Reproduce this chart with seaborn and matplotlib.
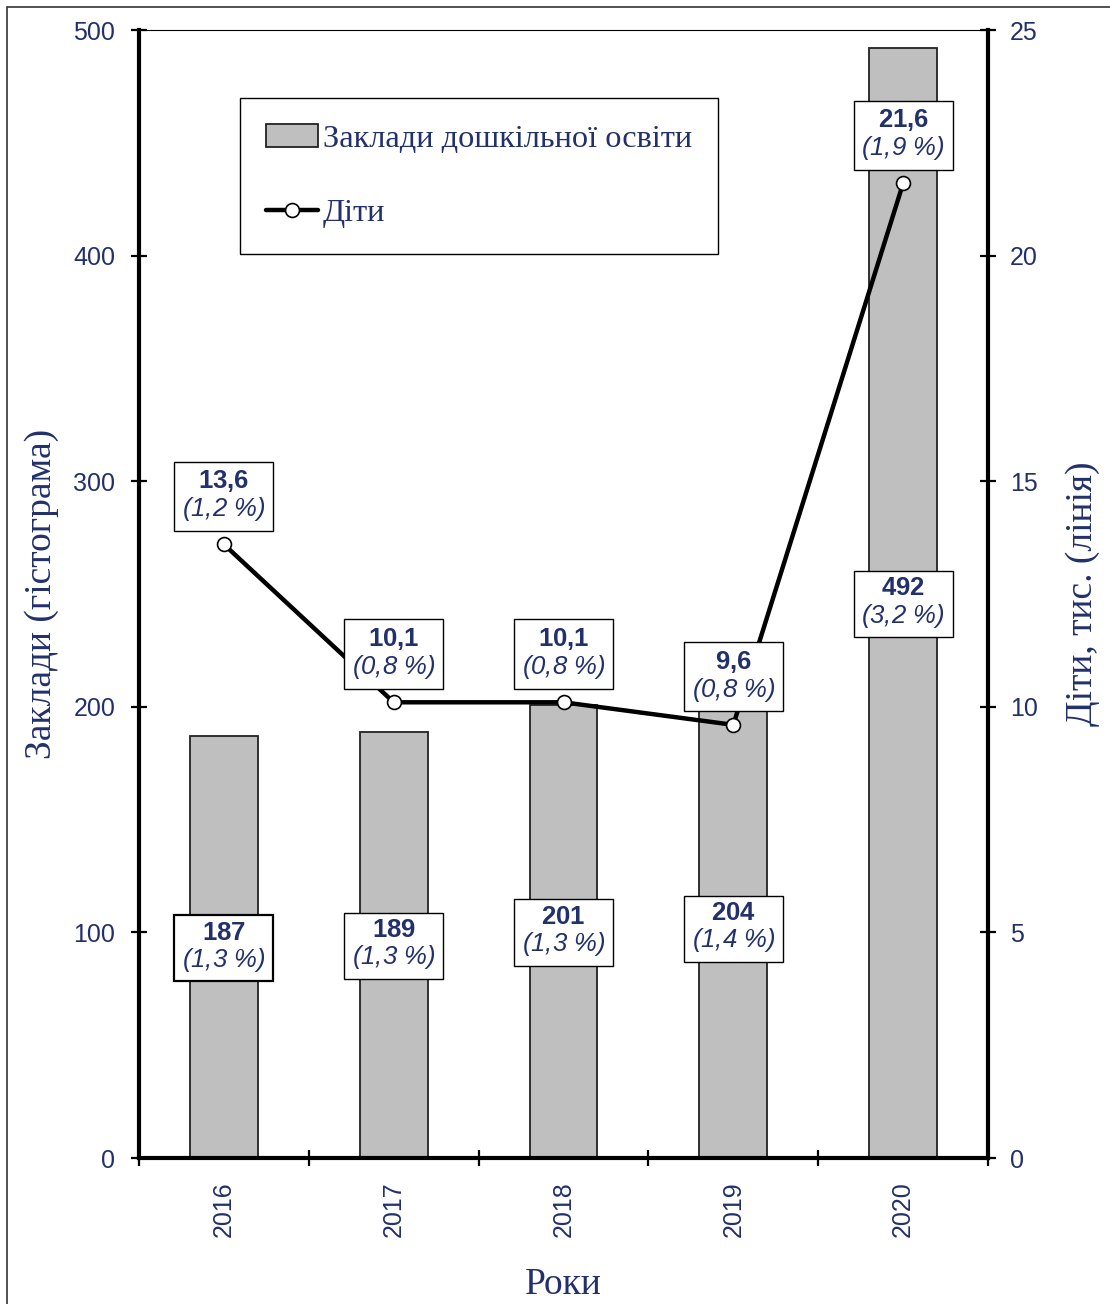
import numpy as np
import matplotlib
matplotlib.use("Agg")
import matplotlib.pyplot as plt
import matplotlib.patches as mpatches
from matplotlib.lines import Line2D
import seaborn as sns

# ---- data ----
years = ["2016", "2017", "2018", "2019", "2020"]
institutions = [187, 189, 201, 204, 492]
inst_pct = ["(1,3 %)", "(1,3 %)", "(1,3 %)", "(1,4 %)", "(3,2 %)"]
children = [13.6, 10.1, 10.1, 9.6, 21.6]
child_lbl = ["13,6", "10,1", "10,1", "9,6", "21,6"]
child_pct = ["(1,2 %)", "(0,8 %)", "(0,8 %)", "(0,8 %)", "(1,9 %)"]
left_ticks = [0, 100, 200, 300, 400, 500]
right_ticks = [0, 5, 10, 15, 20, 25]

NAVY = "#22306B"
SANS = ["Liberation Sans", "DejaVu Sans"]
SERIF = ["Liberation Serif", "DejaVu Serif"]

sns.set_theme(style="white")
plt.rcParams["font.family"] = SANS
plt.rcParams["mathtext.fontset"] = "custom"
plt.rcParams["mathtext.rm"] = "Liberation Sans:italic"
plt.rcParams["mathtext.it"] = "Liberation Sans:italic"
plt.rcParams["mathtext.bf"] = "Liberation Sans:bold"

fig = plt.figure(figsize=(11.10, 13.04), dpi=100)
ax1 = fig.add_axes([139 / 1110, 1 - 1158 / 1304, (988 - 139) / 1110, (1158 - 30) / 1304])

sns.barplot(x=years, y=institutions, color="#BFBFBF", edgecolor="#222222",
            linewidth=1.3, width=0.4, saturation=1, ax=ax1, zorder=2)

ax2 = ax1.twinx()
xpos = np.arange(len(years))
sns.lineplot(x=xpos, y=children, ax=ax2, color="black", linewidth=3.2,
             marker="o", markersize=10, markerfacecolor="white",
             markeredgecolor="black", markeredgewidth=1.2, legend=False, zorder=3)

ax1.set_xlim(-0.5, 4.5)
ax2.set_xlim(-0.5, 4.5)
ax1.set_ylim(0, 500)
ax2.set_ylim(0, 25)

# ticks
ax1.set_xticks(xpos)
ax1.set_xticklabels(years, rotation=90, color=NAVY, fontsize=18, family=SANS)
ax1.set_xticks(np.arange(-0.5, 5, 1), minor=True)
ax1.tick_params(axis="x", which="major", length=0, pad=17, bottom=True)
ax1.tick_params(axis="x", which="minor", length=12, width=1.6, direction="inout",
                color="black", bottom=True)
ax1.set_yticks(left_ticks)
ax1.set_yticklabels([str(v) for v in left_ticks], color=NAVY, fontsize=18, family=SANS)
ax1.tick_params(axis="y", which="major", length=12, width=1.6, direction="inout",
                color="black", pad=11, left=True)
ax2.set_yticks(right_ticks)
ax2.set_yticklabels([str(v) for v in right_ticks], color=NAVY, fontsize=18, family=SANS)
ax2.tick_params(axis="y", which="major", length=12, width=1.6, direction="inout",
                color="black", pad=10, right=True)
ax1.grid(False)
ax2.grid(False)

# spines
for s in ["left", "bottom"]:
    ax1.spines[s].set_linewidth(3)
    ax1.spines[s].set_color("black")
ax1.spines["top"].set_linewidth(0.8)
ax1.spines["top"].set_color("black")
ax1.spines["right"].set_visible(False)
for s in ["left", "bottom", "top"]:
    ax2.spines[s].set_visible(False)
ax2.spines["right"].set_linewidth(3)
ax2.spines["right"].set_color("black")
ax2.spines["right"].set_visible(True)

# axis labels
ax1.set_ylabel("Заклади (гістограма)", fontsize=27, color=NAVY, family=SERIF, labelpad=10)
ax2.set_ylabel("Діти, тис. (лінія)", fontsize=27, color=NAVY, family=SERIF,
               rotation=90, labelpad=20)
ax1.set_xlabel("Роки", fontsize=27, color=NAVY, family=SERIF, labelpad=22)


def mt(s):
    return s.replace(",", "{,}").replace("%", r"\%").replace(" ", r"\ ")


def boxed(ax, x, y, top, bottom, dy, lw=1.0, z=6):
    txt = r"$\mathbf{" + mt(top) + r"}$" + "\n" + r"$\mathit{" + mt(bottom) + r"}$"
    ax.annotate(txt, (x, y), xytext=(0, dy), textcoords="offset points",
                ha="center", va="center", ma="center", fontsize=18.5, color=NAVY,
                linespacing=1.05, zorder=z,
                bbox=dict(boxstyle="square,pad=0.3", fc="white", ec="black", lw=lw))


for i, v in enumerate(institutions):
    boxed(ax1, xpos[i], v / 2, str(v), inst_pct[i], 0, lw=1.6 if i == 0 else 1.0)
for i, v in enumerate(children):
    boxed(ax2, xpos[i], v, child_lbl[i], child_pct[i], 35)

# legend
handles = [mpatches.Patch(facecolor="#BFBFBF", edgecolor="#222222", linewidth=1.3),
           Line2D([0], [0], color="black", lw=3.2, marker="o", markersize=10,
                  markerfacecolor="white", markeredgecolor="black", markeredgewidth=1.2)]
leg = ax2.legend(handles, ["Заклади дошкільної освіти", "Діти"],
                 loc="upper left", bbox_to_anchor=(240 / 1110, 1 - 98 / 1304),
                 bbox_transform=fig.transFigure, frameon=True, fancybox=False,
                 edgecolor="black", framealpha=1, borderpad=0.8, labelspacing=1.38,
                 handlelength=1.6, handletextpad=0.15, borderaxespad=0,
                 prop={"family": SERIF, "size": 23.3})
leg.get_frame().set_linewidth(1.0)
for t in leg.get_texts():
    t.set_color(NAVY)
leg.set_zorder(10)

# outer frame
fig.patches.append(mpatches.Rectangle((7 / 1110, -0.1), 1.2, 1.1 - 7 / 1304,
                                      transform=fig.transFigure, fill=False,
                                      ec="#333333", lw=1.2))

fig.savefig("out.png", dpi=100, facecolor="white")
